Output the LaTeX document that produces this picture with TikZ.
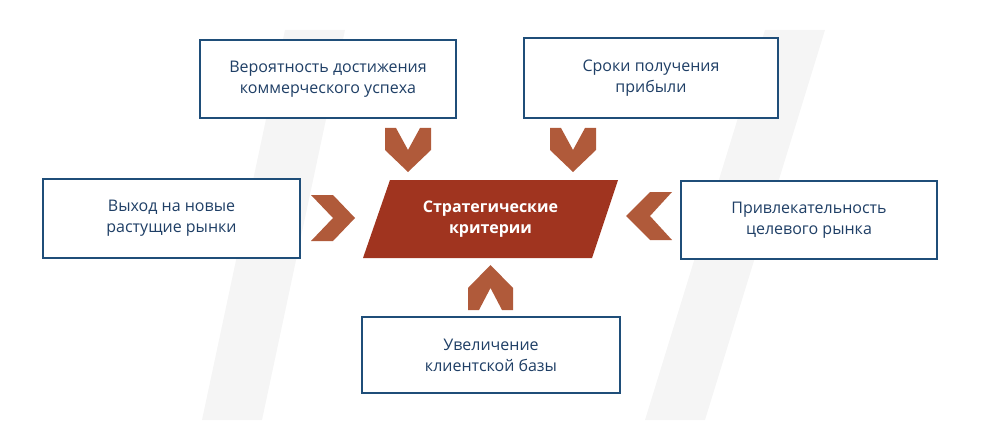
\documentclass[tikz,border=0pt]{standalone}
\usepackage{fontspec}
\setmainfont{Open Sans}
\definecolor{bx}{HTML}{1F4E79}
\definecolor{tx}{HTML}{1F3F66}
\definecolor{par}{HTML}{A0341F}
\definecolor{chev}{HTML}{B05A3A}
\definecolor{bg}{HTML}{F5F5F5}
\begin{document}
\begin{tikzpicture}[x=1pt,y=-1pt,
  box/.style={draw=bx,line width=2.5pt,fill=white,text=tx,font=\fontsize{16}{21}\selectfont,align=center},
  chv/.style={fill=chev}]
\useasboundingbox (0,0) rectangle (988,441);
\fill[bg] (285,30) -- (345,30) -- (262,420) -- (202,420) -- cycle;
\fill[bg] (765,30) -- (825,30) -- (705,420) -- (645,420) -- cycle;
\node[box,minimum width=256pt,minimum height=78pt] (tl) at (328,79) {Вероятность достижения\\коммерческого успеха};
\node[box,minimum width=254pt,minimum height=80pt] (tr) at (651,78) {Сроки получения\\прибыли};
\node[box,minimum width=257pt,minimum height=79pt] (l) at (171.5,218.5) {Выход на новые\\растущие рынки};
\node[box,minimum width=256pt,minimum height=78pt] (r) at (809,220) {Привлекательность\\целевого рынка};
\node[box,minimum width=258pt,minimum height=76pt] (b) at (491,355) {Увеличение\\клиентской базы};
\fill[par] (390,180) -- (618,180) -- (592,258) -- (363,258) -- cycle;
\node[text=white,font=\fontsize{16}{21}\selectfont\bfseries,align=center] (c) at (490.5,219) {Стратегические\\критерии};
\foreach \x in {385,550}{
  \fill[chv] (\x,128) -- (\x+11,128) -- (\x+23,150) -- (\x+35,128) -- (\x+46,128) -- (\x+46,150) -- (\x+23,172) -- (\x,150) -- cycle;}
\fill[chv] (468,310) -- (479,310) -- (490.5,288) -- (502,310) -- (513,310) -- (513,288) -- (490.5,265) -- (468,288) -- cycle;
\fill[chv] (311,195) -- (333,195) -- (355,218) -- (333,241) -- (311,241) -- (333,218) -- cycle;
\fill[chv] (672,192) -- (650,192) -- (626,216) -- (650,240) -- (672,240) -- (650,216) -- cycle;
\end{tikzpicture}
\end{document}
